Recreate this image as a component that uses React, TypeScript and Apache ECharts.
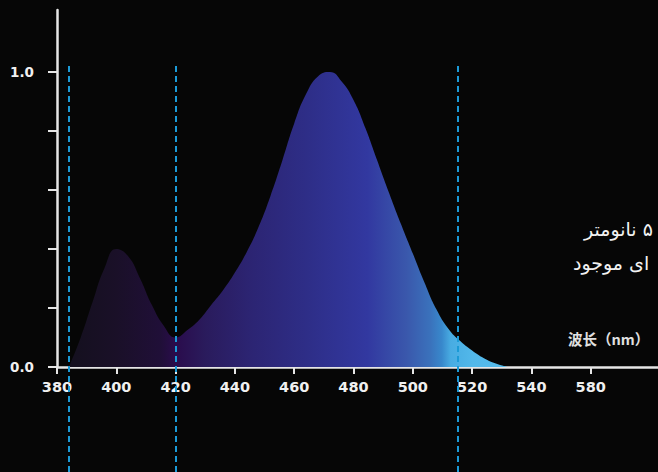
import { useEffect, useRef } from "react";
import * as echarts from "echarts";

const wavelengths = [384, 388, 392, 396, 400, 404, 408, 412, 416, 420, 424, 428, 432, 436, 440, 444, 448, 452, 456, 460, 464, 468, 472, 476, 480, 484, 488, 492, 496, 500, 504, 508, 512, 516, 520, 524, 528, 532];
const intensity = [0, 0.1, 0.22, 0.335, 0.4, 0.375, 0.3, 0.21, 0.14, 0.1, 0.125, 0.16, 0.21, 0.26, 0.32, 0.39, 0.475, 0.58, 0.7, 0.825, 0.925, 0.985, 1.0, 0.968, 0.905, 0.81, 0.7, 0.59, 0.485, 0.385, 0.285, 0.195, 0.13, 0.088, 0.056, 0.03, 0.012, 0];
const xTickValues = [380, 400, 420, 440, 460, 480, 500, 520, 540, 560];
const xTickLabels = ["380", "400", "420", "440", "460", "480", "500", "520", "540", "580"];
const yTickValues = [0, 0.2, 0.4, 0.6, 0.8, 1.0];
const yLabelValues = [0, 1.0];
const markerWavelengths = [384, 420, 515];
const axisName = "波长（nm）";
const noteLines = ["۵ نانومتر", "ای موجود"];

export default function App() {
  const ref = useRef<HTMLDivElement>(null);
  useEffect(() => {
    document.body.style.margin = "0";
    document.body.style.background = "#060606";
    const chart = echarts.init(ref.current!, null, { renderer: "svg" });
    const axisColor = "#e6e6e6";
    const labelFont = "DejaVu Sans";
    chart.setOption({
      animation: false,
      backgroundColor: "#060606",
      grid: [
        { left: 57, right: 0, top: 10, bottom: 105, outerBoundsMode: "none" },
        { left: 57, right: 0, top: 65, bottom: 0, outerBoundsMode: "none" },
      ],
      xAxis: [
        {
          type: "value",
          gridIndex: 0,
          min: 380,
          max: 582.7,
          splitLine: { show: false },
          axisLine: { show: true, onZero: false, lineStyle: { color: axisColor, width: 2.5 } },
          axisTick: { show: true, length: 7, customValues: xTickValues, lineStyle: { color: axisColor, width: 2 } },
          axisLabel: {
            show: true,
            customValues: xTickValues,
            margin: 12,
            color: "#f0f0f0",
            fontSize: 14.5,
            fontWeight: "bold",
            fontFamily: labelFont,
            formatter: (v: number) => xTickLabels[Math.round((v - 380) / 20)] ?? "",
          },
        },
        { type: "value", gridIndex: 1, min: 380, max: 582.7, show: false },
      ],
      yAxis: [
        {
          type: "value",
          gridIndex: 0,
          min: 0,
          max: 1.21,
          splitLine: { show: false },
          axisLine: { show: true, lineStyle: { color: axisColor, width: 2.5 } },
          axisTick: { show: true, length: 9, customValues: yTickValues, lineStyle: { color: axisColor, width: 2 } },
          axisLabel: {
            show: true,
            customValues: yLabelValues,
            margin: 23,
            color: "#f0f0f0",
            fontSize: 13.5,
            fontWeight: "bold",
            fontFamily: labelFont,
            formatter: (v: number) => v.toFixed(1),
          },
        },
        { type: "value", gridIndex: 1, min: 0, max: 1, show: false },
      ],
      series: [
        {
          type: "line",
          xAxisIndex: 0,
          yAxisIndex: 0,
          data: wavelengths.map((w, i) => [w, intensity[i]]),
          smooth: 0.5,
          symbol: "none",
          lineStyle: { width: 0 },
          areaStyle: {
            opacity: 1,
            color: new echarts.graphic.LinearGradient(0, 0, 1, 0, [
              { offset: 0, color: "#14101e" },
              { offset: 0.108, color: "#1a1028" },
              { offset: 0.21, color: "#200f38" },
              { offset: 0.243, color: "#2a0c4c" },
              { offset: 0.31, color: "#2a1b5c" },
              { offset: 0.41, color: "#2c2472" },
              { offset: 0.547, color: "#2e2e88" },
              { offset: 0.68, color: "#3238a0" },
              { offset: 0.77, color: "#3a58ac" },
              { offset: 0.824, color: "#3a72bc" },
              { offset: 0.85, color: "#3888cc" },
              { offset: 0.87, color: "#48ace2" },
              { offset: 0.92, color: "#52b8ea" },
              { offset: 1, color: "#56bcec" },
            ]),
          },
        },
        {
          type: "line",
          xAxisIndex: 1,
          yAxisIndex: 1,
          data: [[400, 0.5]],
          symbol: "none",
          lineStyle: { opacity: 0 },
          markLine: {
            silent: true,
            symbol: "none",
            label: { show: false },
            lineStyle: { color: "#1b9ad6", width: 2, type: [6, 4] },
            data: markerWavelengths.map((w) => ({ xAxis: w })),
          },
        },
      ],
      graphic: [
        {
          type: "text",
          x: 584,
          y: 229,
          style: { text: "\u202B" + noteLines[0] + "\u202C", fill: "#f2f2f2", fontSize: 19, fontFamily: "DejaVu Sans", verticalAlign: "middle", align: "left" },
        },
        {
          type: "text",
          x: 573,
          y: 263,
          style: { text: "\u202B" + noteLines[1] + "\u202C", fill: "#f2f2f2", fontSize: 19, fontFamily: "DejaVu Sans", verticalAlign: "middle", align: "left" },
        },
        {
          type: "text",
          x: 568,
          y: 338,
          style: { text: axisName, fill: "#e0e0e0", fontSize: 14.5, fontWeight: "bold", fontFamily: "Noto Sans CJK SC", verticalAlign: "middle", align: "left" },
        },
      ],
    });
    return () => chart.dispose();
  }, []);
  return <div ref={ref} style={{ position: "fixed", left: 0, top: 0, width: 658, height: 472 }} />;
}
